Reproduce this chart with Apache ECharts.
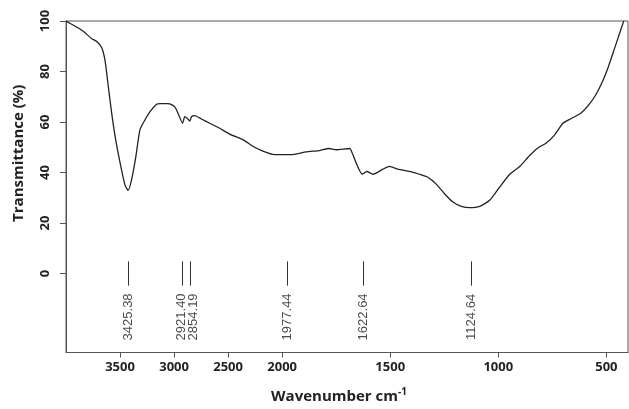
<!DOCTYPE html>
<html>
<head>
<meta charset="utf-8">
<script src="https://cdn.jsdelivr.net/npm/echarts@6/dist/echarts.min.js"></script>
<style>html,body{margin:0;padding:0;background:#fff}#c{width:629px;height:409px}</style>
</head>
<body>
<div id="c"></div>
<script>
// Spectrum (wavenumber cm-1, transmittance %)
const wavenumbers = [4000,3960,3885,3838,3761,3715,3669,3638,3608,3577,3546,3500,3454,3425,3392,3353,3316,3270,3224,3162,3131,3070,3039,2993,2963,2921,2901,2880,2854,2839,2809,2747,2670,2578,2486,2363,2271,2179,2071,2025,1966,1951,1889,1827,1784,1750,1688,1673,1655,1630,1608,1580,1534,1503,1465,1411,1365,1326,1287,1249,1210,1171,1133,1086,1040,994,947,901,855,817,778,739,701,662,616,577,546,516,492,469,446,426,420];
const transmittance = [100,99,97.2,95.8,93.0,91.9,89.4,84.1,73.8,63.4,54.4,43.9,35.0,32.9,37.4,46.5,56.9,60.8,64.0,67.0,67.3,67.3,67.2,66.0,63.4,59.5,62.1,61.5,60.4,62.1,62.5,61.2,59.5,57.5,55.2,53.0,50.4,48.5,47.1,47.1,47.1,47.1,48.2,48.7,49.5,49.0,49.5,47.1,43.2,39.3,40.4,39.3,41.3,42.4,41.3,40.4,39.3,38.1,35.4,31.6,28.3,26.6,26.1,26.6,29.0,34.2,39.3,42.4,46.7,49.7,51.7,54.9,59.5,61.4,63.7,67.3,71.2,76.4,81.6,87.4,93.3,98.4,100];
const peakLabels = ["3425.38","2921.40","2854.19","1977.44","1622.64","1124.64"];
const xTickLabels = [3500,3000,2500,2000,1500,1000,500];
const yTickLabels = [0,20,40,60,80,100];
const peakLineTop = 4.8, peakLineBottom = -4.8, peakTextY = -17.2;

// Axis scale break at 2000 cm-1: region above 2000 is compressed by 2
const toAxis = w => w > 2000 ? 2000 + (w - 2000) / 2 : w;
const toWn = u => u > 2000 ? 2000 + (u - 2000) * 2 : u;

const lineData = wavenumbers.map((w, i) => [toAxis(w), transmittance[i]]);
const peakPts = peakLabels.map(p => {
  const item = {value: [toAxis(parseFloat(p)), peakTextY], name: p};
  if (p === "2854.19") item.label = {offset: [0, 3.5]};
  if (p === "2921.40") item.label = {offset: [0, -1]};
  return item;
});
const peakLines = peakLabels.map(p => {
  const u = toAxis(parseFloat(p));
  return [{coord: [u, peakLineTop]}, {coord: [u, peakLineBottom]}];
});

const chart = echarts.init(document.getElementById('c'), null, {renderer: 'canvas'});
const font = '"Open Sans", "DejaVu Sans", sans-serif';
chart.setOption({
  animation: false,
  grid: {left: 66, right: 1, top: 21, bottom: 51, show: true, borderColor: '#555', borderWidth: 1},
  xAxis: {
    type: 'value', inverse: true, min: 400, max: 3000,
    splitLine: {show: false},
    axisLine: {onZero: false, lineStyle: {color: '#555'}},
    axisTick: {show: true, length: 5, lineStyle: {color: '#555'}, customValues: xTickLabels.map(toAxis)},
    axisLabel: {customValues: xTickLabels.map(toAxis), formatter: v => String(Math.round(toWn(v))),
      color: '#222', fontFamily: font, fontWeight: 'bold', fontSize: 13, margin: 8},
    name: 'Wavenumber cm{sup|-1}', nameLocation: 'middle', nameGap: 35,
    nameTextStyle: {color: '#222', fontFamily: font, fontWeight: 'bold', fontSize: 15, padding: [0, 16, 0, 0],
      rich: {sup: {fontFamily: font, fontWeight: 'bold', fontSize: 10, verticalAlign: 'bottom', padding: [0,0,8,0], color: '#222'}}}
  },
  yAxis: {
    type: 'value', min: -31.3, max: 100,
    splitLine: {show: false},
    axisLine: {show: true, onZero: false, lineStyle: {color: '#555'}},
    axisTick: {show: true, length: 6, lineStyle: {color: '#555'}, customValues: yTickLabels},
    axisLabel: {customValues: yTickLabels, rotate: 90, color: '#222', fontFamily: font, fontWeight: 'bold', fontSize: 13, margin: 14},
    name: 'Transmittance (%)', nameLocation: 'middle', nameGap: 40,
    nameTextStyle: {color: '#222', fontFamily: font, fontWeight: 'bold', fontSize: 15, padding: [0, 0, 0, 67]}
  },
  series: [
    {type: 'line', data: lineData, showSymbol: false, smooth: 0.2,
      lineStyle: {color: '#222', width: 1.3}},
    {type: 'scatter', data: peakPts, symbolSize: 0,
      label: {show: true, position: 'inside', rotate: 90, formatter: p => p.name,
        color: '#1a1a1a', fontFamily: '"Liberation Sans", Arial, sans-serif', fontSize: 13},
      markLine: {silent: true, symbol: ['none', 'none'], label: {show: false},
        lineStyle: {color: '#333', width: 1, type: 'solid'}, data: peakLines}}
  ]
});
</script>
</body>
</html>
